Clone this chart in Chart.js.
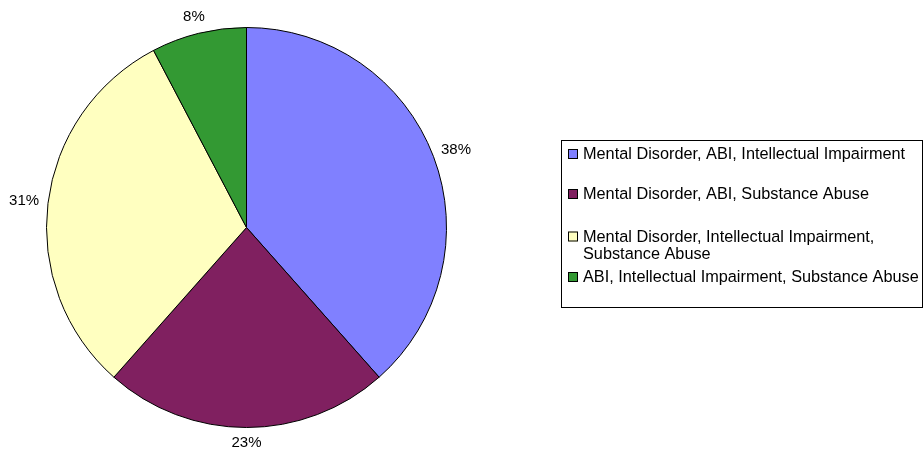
<!DOCTYPE html>
<html lang="en">
<head>
    <meta charset="UTF-8">
    <title>Pie chart</title>
    <script src="https://cdn.jsdelivr.net/npm/chart.js"></script>
    <style>
        html, body {
            margin: 0;
            padding: 0;
            background: #ffffff;
        }
        #grafico {
            display: block;
        }
    </style>
</head>
<body>
    <canvas id="grafico" width="924" height="456"></canvas>

    <script>
        const categorias = [
            "Mental Disorder, ABI, Intellectual Impairment",
            "Mental Disorder, ABI, Substance Abuse",
            ["Mental Disorder, Intellectual Impairment,", "Substance Abuse"],
            "ABI, Intellectual Impairment, Substance Abuse"
        ];
        const valores = [5, 3, 4, 1];
        const cores = ["#8080FF", "#802060", "#FFFFC0", "#339933"];

        const fonte = "'Liberation Sans', Arial, sans-serif";

        // rotulos de porcentagem fora de cada fatia
        const rotulosPlugin = {
            id: 'rotulos',
            afterDatasetsDraw(chart) {
                const ctx = chart.ctx;
                const meta = chart.getDatasetMeta(0);
                const total = valores.reduce((a, b) => a + b, 0);
                ctx.save();
                ctx.font = "15px " + fonte;
                ctx.fillStyle = "#000";
                ctx.textAlign = "center";
                ctx.textBaseline = "middle";
                meta.data.forEach((arc, i) => {
                    const p = arc.getProps(['x', 'y', 'startAngle', 'endAngle', 'outerRadius'], true);
                    const meio = (p.startAngle + p.endAngle) / 2;
                    const texto = Math.round(valores[i] / total * 100) + "%";
                    const w = ctx.measureText(texto).width;
                    const h = 14;
                    const r = p.outerRadius + 9;
                    const cx = p.x + Math.cos(meio) * r + Math.cos(meio) * w / 2;
                    const cy = p.y + Math.sin(meio) * r + Math.sin(meio) * h / 2;
                    ctx.fillText(texto, cx, cy - 1);
                });
                ctx.restore();
            }
        };

        // legenda com moldura, como no original
        const legendaPlugin = {
            id: 'legendaCaixa',
            afterDraw(chart) {
                const ctx = chart.ctx;
                const caixa = { x: 561.5, y: 140.5, w: 361, h: 167 };
                const centros = [154, 194, 236.5, 277];
                const alturaLinha = 17;
                ctx.save();
                ctx.strokeStyle = "#000";
                ctx.lineWidth = 1;
                ctx.strokeRect(caixa.x, caixa.y, caixa.w, caixa.h);
                ctx.font = "16.3px " + fonte;
                ctx.textAlign = "left";
                ctx.textBaseline = "middle";
                categorias.forEach((cat, i) => {
                    const y = centros[i];
                    ctx.fillStyle = cores[i];
                    ctx.fillRect(568, y - 5, 10, 10);
                    ctx.strokeRect(568.5, y - 4.5, 9, 9);
                    ctx.fillStyle = "#000";
                    const linhas = Array.isArray(cat) ? cat : [cat];
                    linhas.forEach((l, j) => {
                        ctx.fillText(l, 583, y + 1 + j * alturaLinha);
                    });
                });
                ctx.restore();
            }
        };

        function renderGrafico() {
            const ctx = document.getElementById('grafico').getContext('2d');
            new Chart(ctx, {
                type: 'pie',
                data: {
                    labels: categorias.map(c => Array.isArray(c) ? c.join(' ') : c),
                    datasets: [{
                        data: valores,
                        backgroundColor: cores,
                        borderColor: '#000000',
                        borderWidth: 1
                    }]
                },
                options: {
                    responsive: false,
                    animation: false,
                    devicePixelRatio: 1,
                    layout: {
                        padding: { left: 46, right: 477, top: 27, bottom: 28 }
                    },
                    plugins: {
                        legend: { display: false },
                        tooltip: { enabled: false }
                    }
                },
                plugins: [rotulosPlugin, legendaPlugin]
            });
        }

        window.onload = () => {
            renderGrafico();
        };
    </script>
</body>
</html>
